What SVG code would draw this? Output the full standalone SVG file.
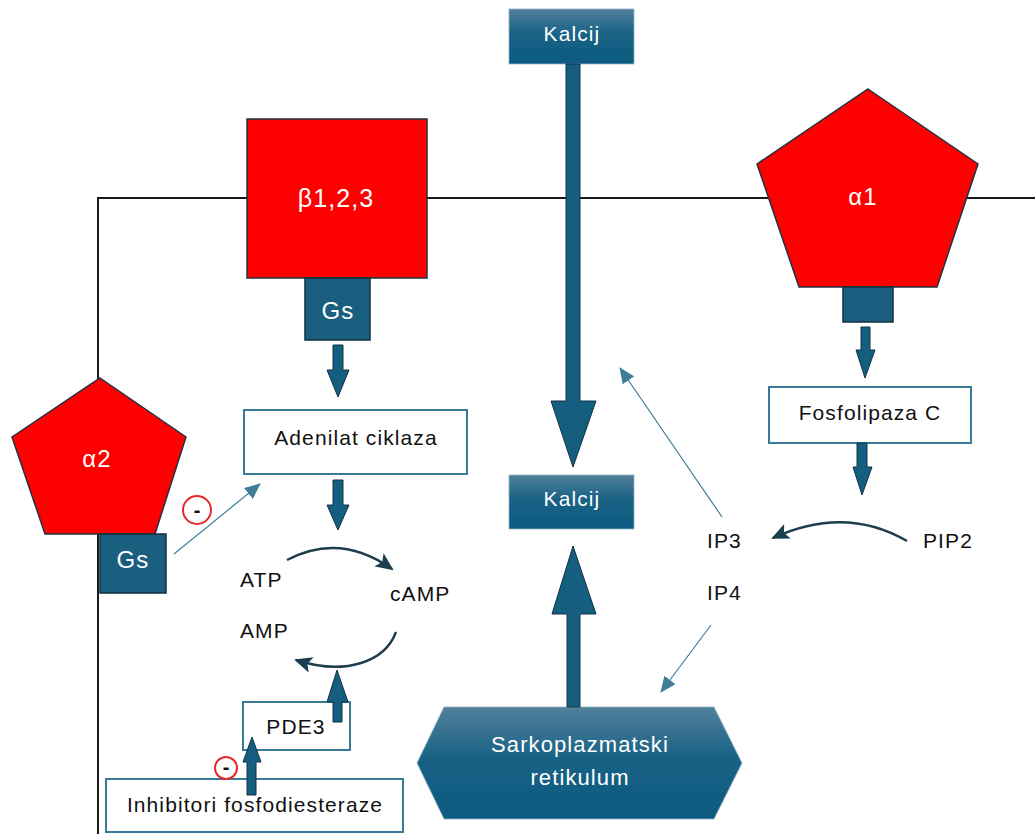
<svg xmlns="http://www.w3.org/2000/svg" width="1035" height="834" viewBox="0 0 1035 834">
<defs>
<style>
.rcp{fill:#ff0000;stroke:#1f3340;stroke-width:1.5}
.gs{fill:#1a5f7f;stroke:#10303f;stroke-width:1.5}
.box{fill:#ffffff;stroke:#3a7a98;stroke-width:2}
.grad{fill:url(#blueGrad);stroke:#8fb3c6;stroke-width:0.8}
.fat{fill:#165e80;stroke:#0d3446;stroke-width:1}
.thin{fill:none;stroke:#3e7e9b;stroke-width:1.2;marker-end:url(#thinHead)}
.curve{fill:none;stroke:#1c3d4d;stroke-width:2.4;marker-end:url(#curveHead)}
.mem{fill:none;stroke:#1a1a1a;stroke-width:2}
.lbl{font-family:"Liberation Sans",Arial,sans-serif;font-size:21px;letter-spacing:1.1px;fill:#111111}
.wl{font-family:"Liberation Sans",Arial,sans-serif;fill:#ffffff;letter-spacing:1.1px;text-anchor:middle}
.minus{fill:none;stroke:#e8262a;stroke-width:2}
.dash{font-family:"Liberation Sans",Arial,sans-serif;font-weight:bold;font-size:20px;fill:#111111;text-anchor:middle}
</style>
<linearGradient id="blueGrad" x1="0" y1="0" x2="0" y2="1">
<stop offset="0" stop-color="#52809b"/>
<stop offset="0.45" stop-color="#196285"/>
<stop offset="1" stop-color="#0c5a80"/>
</linearGradient>
<marker id="thinHead" markerUnits="userSpaceOnUse" markerWidth="16" markerHeight="14" viewBox="0 0 16 14" refX="15" refY="7" orient="auto">
<path d="M0,0 L16,7 L0,14 Z" fill="#3e7e9b"/>
</marker>
<marker id="curveHead" markerUnits="userSpaceOnUse" markerWidth="18" markerHeight="16" viewBox="0 0 18 16" refX="16" refY="8" orient="auto">
<path d="M0,0 L18,8 L0,16 L4,8 Z" fill="#1c3d4d"/>
</marker>
</defs>
<rect width="1035" height="834" fill="#ffffff"/>

<g id="membrane">
<path class="mem" d="M98,834 V198 H1035"/>
</g>

<g id="beta">
<rect class="rcp" x="247" y="119" width="180" height="159"/>
<text class="wl" x="336" y="207" font-size="25">β1,2,3</text>
</g>
<g id="gs-beta">
<rect class="gs" x="305" y="278" width="65" height="62"/>
<text class="wl" x="338" y="319" font-size="24">Gs</text>
</g>

<g id="alpha2">
<polygon class="rcp" points="100,378 186,437 155,534 45,534 12,437"/>
<text class="wl" x="97" y="467" font-size="24">α2</text>
</g>
<g id="gs-alpha2">
<rect class="gs" x="100" y="534" width="66" height="59"/>
<text class="wl" x="133" y="568" font-size="24">Gs</text>
</g>

<g id="alpha1">
<polygon class="rcp" points="868,89 978,164 937,287 799,287 757,164"/>
<text class="wl" x="863" y="205" font-size="24">α1</text>
</g>
<g id="gq-alpha1">
<rect class="gs" x="843" y="287" width="50" height="35"/>
</g>

<g id="kalcij-top">
<rect class="grad" x="509" y="9" width="125" height="55"/>
<text class="wl" x="572" y="41" font-size="21">Kalcij</text>
</g>
<g id="kalcij-mid">
<rect class="grad" x="509" y="475" width="125" height="54"/>
<text class="wl" x="572" y="506" font-size="21">Kalcij</text>
</g>
<g id="sarko">
<polygon class="grad" points="444,707 714,707 742,763 714,819 444,819 417,763"/>
<text class="wl" x="580" y="752" font-size="22">Sarkoplazmatski</text>
<text class="wl" x="580" y="785" font-size="22">retikulum</text>
</g>

<g id="adenilat">
<rect class="box" x="244" y="410" width="223" height="64"/>
<text class="lbl" x="356" y="445" text-anchor="middle">Adenilat ciklaza</text>
</g>
<g id="fosfolipaza">
<rect class="box" x="769" y="387" width="202" height="56"/>
<text class="lbl" x="870" y="420" text-anchor="middle">Fosfolipaza C</text>
</g>
<g id="pde3">
<rect class="box" x="243" y="702" width="107" height="48"/>
<text class="lbl" x="296" y="734" text-anchor="middle">PDE3</text>
</g>
<g id="inhibitori">
<rect class="box" x="106" y="779" width="297" height="53"/>
<text class="lbl" x="255" y="812" text-anchor="middle">Inhibitori fosfodiesteraze</text>
</g>

<g id="metabolites">
<text class="lbl" x="240" y="587">ATP</text>
<text class="lbl" x="390" y="601">cAMP</text>
<text class="lbl" x="240" y="638">AMP</text>
<text class="lbl" x="707" y="548">IP3</text>
<text class="lbl" x="707" y="600">IP4</text>
<text class="lbl" x="923" y="548">PIP2</text>
</g>

<g id="inhibit-1">
<circle class="minus" cx="197" cy="510" r="14"/>
<text class="dash" x="197" y="517">-</text>
</g>
<g id="inhibit-2">
<circle class="minus" cx="226" cy="768" r="11"/>
<text class="dash" x="226" y="774">-</text>
</g>

<g id="connectors">
<polygon class="fat" points="333,345 343,345 343,370 349,370 338,397 327,370 333,370"/>
<polygon class="fat" points="333,480 343,480 343,505 349,505 338,530 327,505 333,505"/>
<polygon class="fat" points="566,64 580,64 580,401 596,401 573,467 551,401 566,401"/>
<polygon class="fat" points="567,707 580,707 580,614 596,614 573,546 552,614 567,614"/>
<polygon class="fat" points="333,722 342,722 342,702 348,702 337,670 327,702 333,702"/>
<polygon class="fat" points="247,795 256,795 256,762 261,762 252,737 243,762 247,762"/>
<polygon class="fat" points="861,327 870,327 870,350 875,350 865,378 856,350 861,350"/>
<polygon class="fat" points="857,443 867,443 867,467 872,467 862,495 853,467 857,467"/>
<line class="thin" x1="174" y1="554" x2="260" y2="484"/>
<line class="thin" x1="722" y1="517" x2="620" y2="368"/>
<line class="thin" x1="711" y1="625" x2="661" y2="692"/>
<path class="curve" d="M287,560 Q340,532 392,569"/>
<path class="curve" d="M396,632 C385,662 345,676 296,660"/>
<path class="curve" d="M907,541 Q845,505 773,538"/>
</g>
</svg>
